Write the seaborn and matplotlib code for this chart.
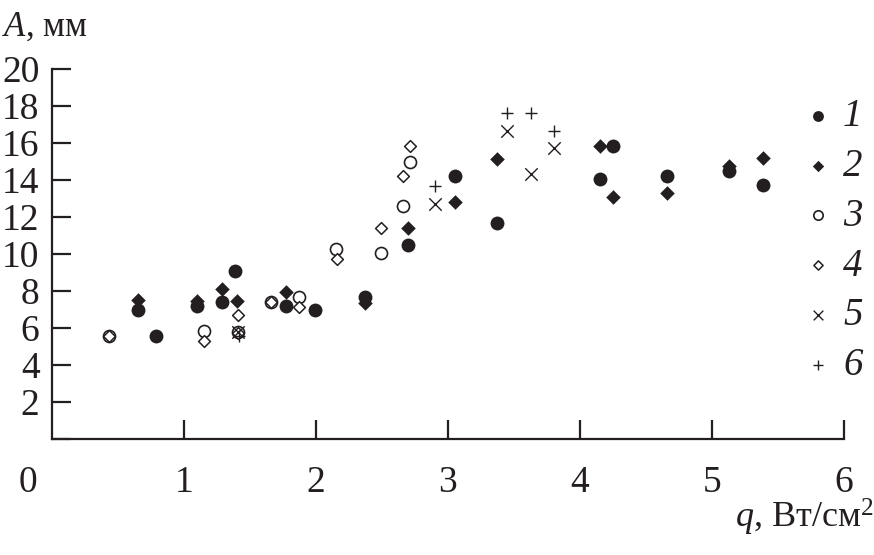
import matplotlib
matplotlib.use("Agg")
import matplotlib.pyplot as plt
import seaborn as sns
import pandas as pd

# ---- data ----
s1_x = [0.65, 0.79, 1.10, 1.29, 1.39, 1.77, 1.99, 2.37, 2.70, 3.05, 3.37, 4.15, 4.25, 4.66, 5.13, 5.39]
s1_y = [6.98, 5.57, 7.19, 7.41, 9.10, 7.19, 6.98, 7.66, 10.49, 14.22, 11.66, 14.04, 15.85, 14.22, 14.51, 13.74]

s2_x = [0.65, 1.10, 1.29, 1.40, 1.77, 2.37, 2.70, 3.05, 3.37, 4.15, 4.25, 4.66, 5.13, 5.39]
s2_y = [7.52, 7.48, 8.13, 7.48, 7.95, 7.34, 11.39, 12.82, 15.16, 15.85, 13.06, 13.29, 14.76, 15.18]

s3_x = [0.43, 1.15, 1.41, 1.66, 1.87, 2.15, 2.49, 2.66, 2.71]
s3_y = [5.57, 5.86, 5.80, 7.43, 7.66, 10.26, 10.04, 12.62, 14.95]

s4_x = [0.43, 1.15, 1.41, 1.41, 1.66, 1.87, 2.16, 2.49, 2.66, 2.71]
s4_y = [5.57, 5.32, 6.71, 5.75, 7.43, 7.16, 9.74, 11.39, 14.19, 15.85]

s5_x = [1.41, 2.90, 3.45, 3.63, 3.80]
s5_y = [5.80, 12.71, 16.66, 14.33, 15.72]

s6_x = [1.42, 2.90, 3.45, 3.63, 3.80]
s6_y = [5.57, 13.65, 17.61, 17.61, 16.66]

series_labels = ["1", "2", "3", "4", "5", "6"]
x_ticks = [1, 2, 3, 4, 5, 6]
y_ticks = [2, 4, 6, 8, 10, 12, 14, 16, 18, 20]

# ---- style ----
sns.set_style("ticks")
INK = "#231f20"
plt.rcParams["font.family"] = ["Liberation Serif", "DejaVu Serif"]
plt.rcParams["mathtext.fontset"] = "custom"
plt.rcParams["mathtext.rm"] = "Liberation Serif"
plt.rcParams["mathtext.it"] = "Liberation Serif:italic"
plt.rcParams["text.color"] = INK
plt.rcParams["axes.edgecolor"] = INK
plt.rcParams["xtick.color"] = INK
plt.rcParams["ytick.color"] = INK

fig = plt.figure(figsize=(8.74, 5.55), dpi=100)
ax = fig.add_axes([52 / 874, 116 / 555, 792 / 874, 370 / 555])

styles = [
    dict(marker="o", s=100, color=INK, edgecolor=INK, linewidth=0),
    dict(marker="D", s=55, color=INK, edgecolor=INK, linewidth=0),
    dict(marker="o", s=75, facecolor="white", edgecolor=INK, linewidth=1.2),
    dict(marker="D", s=36, facecolor="white", edgecolor=INK, linewidth=1.1),
    dict(marker="x", s=80, color=INK, linewidth=1.0),
    dict(marker="+", s=85, color=INK, linewidth=1.0),
]
xs = [s1_x, s2_x, s3_x, s4_x, s5_x, s6_x]
ys = [s1_y, s2_y, s3_y, s4_y, s5_y, s6_y]

for xv, yv, lab, st in zip(xs, ys, series_labels, styles):
    df = pd.DataFrame({"q": xv, "A": yv})
    sns.scatterplot(data=df, x="q", y="A", ax=ax, label=lab, zorder=3, **st)

ax.set_xlim(0, 6)
ax.set_ylim(0, 20)
ax.set_xticks(x_ticks)
ax.set_xticklabels([str(t) for t in x_ticks])
ax.set_yticks([0] + y_ticks)
ax.set_yticklabels([""] + [str(t) for t in y_ticks])
ax.set_xlabel("")
ax.set_ylabel("")
for side in ("top", "right"):
    ax.spines[side].set_visible(False)
for side in ("left", "bottom"):
    ax.spines[side].set_linewidth(1.6)
ax.tick_params(axis="both", direction="in", length=14, width=1.6, labelsize=27)
ax.tick_params(axis="x", pad=19)
ax.tick_params(axis="y", pad=9)

# origin label
fig.text(28 / 874, 1 - 466 / 555, "0", ha="center", va="top", fontsize=27)

# axis titles
fig.text(2 / 874, 1 - 36 / 555, "$A$, мм", ha="left", va="baseline", fontsize=25)
fig.text(873 / 874, 1 - 528 / 555, "$q$, Вт/см$^2$", ha="right", va="baseline", fontsize=26)

leg = ax.legend(loc="upper left", bbox_to_anchor=(806 / 874, 1 - 98 / 555),
                bbox_transform=fig.transFigure, frameon=False, markerscale=0.78,
                handlelength=0.6, handletextpad=0.35, labelspacing=0.33,
                borderpad=0, borderaxespad=0,
                prop={"family": "Liberation Serif", "style": "italic", "size": 28})

fig.savefig("out.png", dpi=100)
